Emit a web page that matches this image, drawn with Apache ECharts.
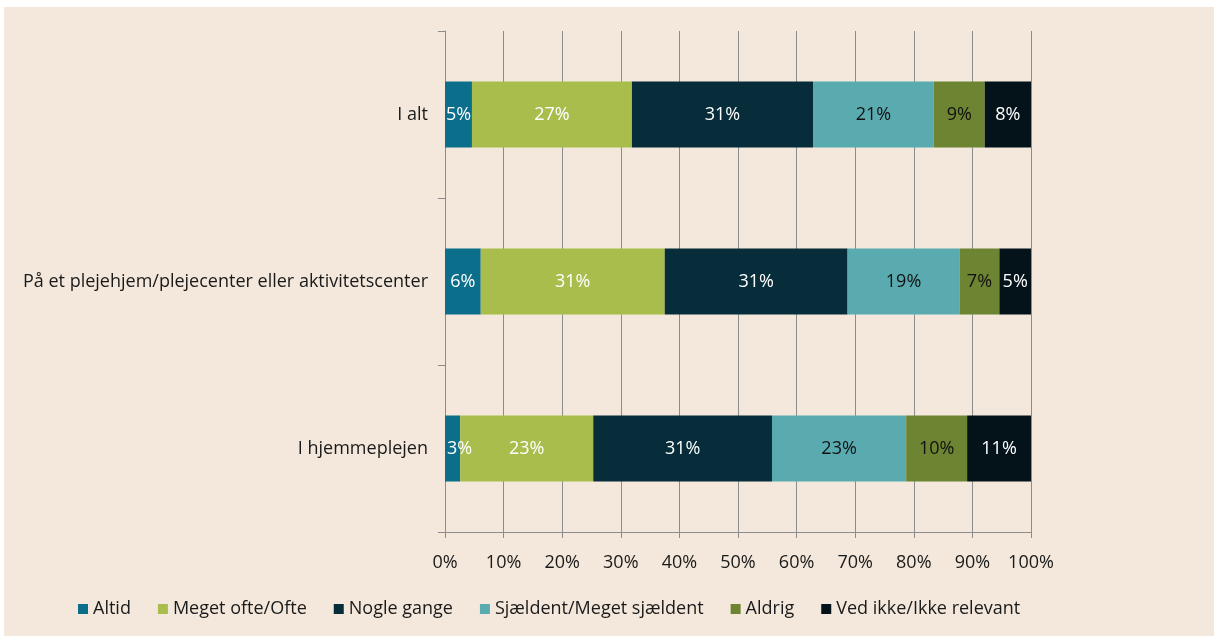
<!DOCTYPE html>
<html>
<head>
<meta charset="utf-8">
<script src="https://cdn.jsdelivr.net/npm/echarts@6/dist/echarts.min.js"></script>
<style>
  html, body { margin: 0; padding: 0; background: #ffffff; }
  #chart { position: absolute; left: 4px; top: 7px; width: 1210px; height: 629px; background: #f3e8db; }
</style>
</head>
<body>
<div id="chart"></div>
<script>
// Respondent groups (top to bottom)
const categories = ['I alt', 'På et plejehjem/plejecenter eller aktivitetscenter', 'I hjemmeplejen'];

// Answer shares in percent per group
const altid      = [4.6, 6.1, 2.6];
const megetOfte  = [27.3, 31.4, 22.7];
const nogleGange = [30.9, 31.2, 30.5];
const sjaeldent  = [20.6, 19.1, 22.9];
const aldrig     = [8.7, 6.8, 10.4];
const vedIkke    = [7.9, 5.4, 10.9];

const xTicks = [0, 10, 20, 30, 40, 50, 60, 70, 80, 90, 100];

const seriesDefs = [
  { name: 'Altid', data: altid, color: '#0b6e8a', label: '#ffffff' },
  { name: 'Meget ofte/Ofte', data: megetOfte, color: '#a8bd4c', label: '#ffffff' },
  { name: 'Nogle gange', data: nogleGange, color: '#062d39', label: '#ffffff' },
  { name: 'Sjældent/Meget sjældent', data: sjaeldent, color: '#5aabb0', label: '#111111' },
  { name: 'Aldrig', data: aldrig, color: '#6d8432', label: '#111111' },
  { name: 'Ved ikke/Ikke relevant', data: vedIkke, color: '#04121a', label: '#ffffff' }
];

const FONT = '"Open Sans", Lato, sans-serif';
const FS = 18;

// A label that is wider than its segment at the start of the axis is kept inside the plot
function barData(values, first) {
  return values.map(v => (first && v < 4)
    ? { value: v, label: { position: 'insideLeft', distance: 2 } }
    : v);
}

const chart = echarts.init(document.getElementById('chart'), null, { renderer: 'canvas' });
chart.setOption({
  backgroundColor: '#f3e8db',
  animation: false,
  textStyle: { fontFamily: FONT },
  grid: { left: 441, right: 183, top: 24, bottom: 104 },
  legend: {
    left: 69, top: 588,
    itemWidth: 10, itemHeight: 10, itemGap: 27,
    icon: 'rect',
    textStyle: { fontFamily: FONT, fontSize: FS, color: '#1a1a1a' },
    data: seriesDefs.map(s => s.name)
  },
  xAxis: {
    type: 'value', min: 0, max: 100, interval: 10,
    axisLine: { show: true, lineStyle: { color: '#8c8c8c', width: 1 } },
    axisTick: { show: true, length: 6, lineStyle: { color: '#8c8c8c' } },
    splitLine: { show: true, lineStyle: { color: '#8c8c8c', width: 1 } },
    axisLabel: {
      fontFamily: FONT, fontSize: FS, color: '#1a1a1a', margin: 22,
      formatter: v => xTicks.includes(v) ? v + '%' : ''
    }
  },
  yAxis: {
    type: 'category', inverse: true, data: categories,
    axisLine: { show: true, lineStyle: { color: '#8c8c8c', width: 1 } },
    axisTick: { show: true, length: 7, lineStyle: { color: '#8c8c8c' } },
    axisLabel: { fontFamily: FONT, fontSize: FS, color: '#1a1a1a', margin: 17 }
  },
  series: seriesDefs.map((s, i) => ({
    name: s.name, type: 'bar', stack: 'total', data: barData(s.data, i === 0),
    barWidth: 66,
    itemStyle: { color: s.color },
    label: {
      show: true, position: 'inside', color: s.label,
      fontFamily: FONT, fontSize: FS,
      formatter: p => Math.round(p.value) + '%'
    }
  }))
});
</script>
</body>
</html>
